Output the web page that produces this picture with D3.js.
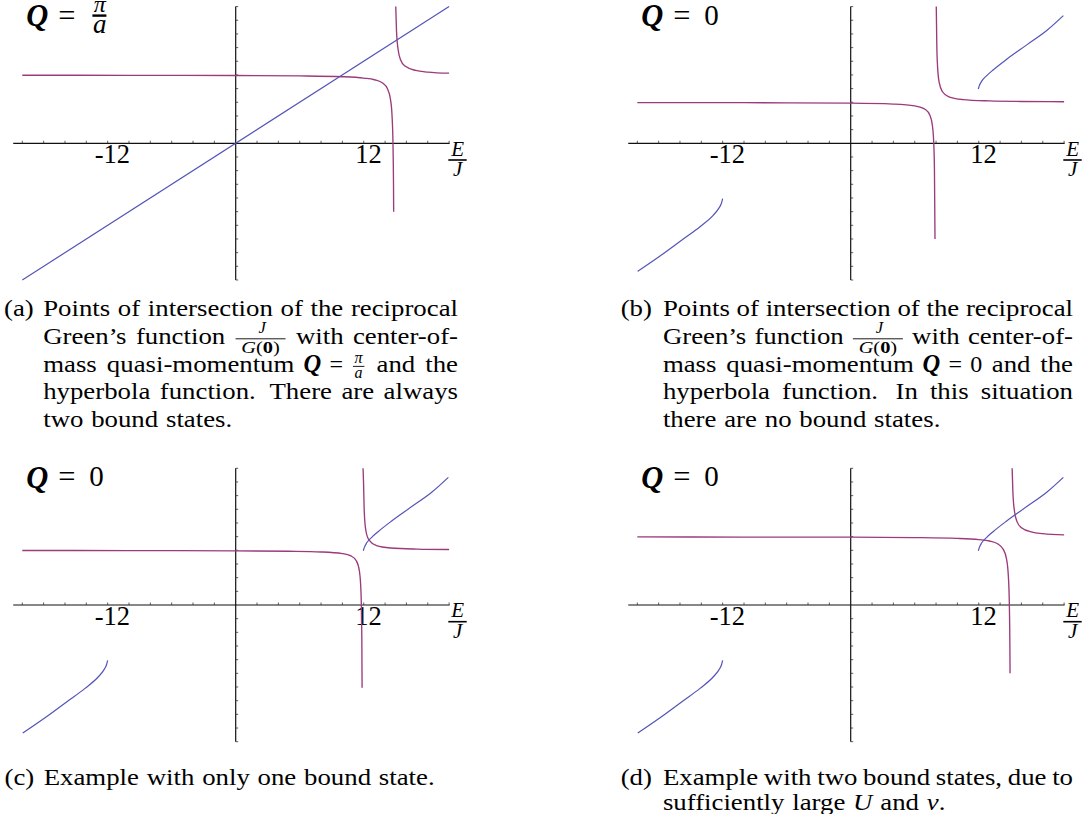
<!DOCTYPE html>
<html>
<head>
<meta charset="utf-8">
<script src="https://cdn.jsdelivr.net/npm/d3@7"></script>
<style>
  html, body { margin: 0; padding: 0; background: #fff; }
  svg { display: block; }
  text { font-family: "Liberation Serif", "Times New Roman", serif; fill: #000; }
</style>
</head>
<body>
<svg id="fig" width="1084" height="814"></svg>
<script>
// ---- axes shared by the four panels (E/J horizontally) ----
const xDomain = [-20, 20];
const yDomain = [-10, 10];
const xMinorTicks = d3.range(-20, 21, 2).filter(v => v !== 0);
const yMinorTicks = d3.range(-10, 11, 1).filter(v => v !== 0);
const xTickLabels = [-12, 12];

// ---- reciprocal Green's function J/G(0): two branches around the pole ----
const greenA_left  = [[-20, 4.98], [-10, 4.97], [0, 4.96], [6, 4.93], [10, 4.87], [12, 4.77], [13, 4.65],
                      [13.8, 4.39], [14.2, 4.03], [14.5, 3.24], [14.65, 2.05], [14.74, 0.0], [14.79, -3.1], [14.805, -5.0]];
const greenA_right = [[15.0, 10.0], [15.07, 8.25], [15.22, 6.86], [15.47, 6.08], [15.87, 5.65], [16.87, 5.33], [18, 5.21], [20, 5.13]];

const greenB_left  = [[-20, 2.98], [-10, 2.97], [0, 2.94], [4, 2.87], [6, 2.74], [7, 2.47], [7.4, 2.09],
                      [7.65, 1.33], [7.78, 0.06], [7.85, -2.0], [7.9, -7.0]];
const greenB_right = [[8.02, 10.0], [8.07, 7.17], [8.15, 5.5], [8.3, 4.43], [8.6, 3.77], [9.2, 3.4], [10.5, 3.2], [13, 3.1], [16, 3.06], [20, 3.04]];

const greenC_left  = [[-20, 3.99], [-10, 3.98], [0, 3.96], [5, 3.93], [8, 3.88], [10, 3.76], [10.8, 3.59],
                      [11.3, 3.24], [11.6, 2.45], [11.75, 0.79], [11.82, -2.4], [11.845, -6.05]];
const greenC_right = [[11.935, 10.0], [11.98, 9.0], [12.05, 6.81], [12.2, 5.45], [12.5, 4.74], [13.2, 4.34], [14.5, 4.17], [17, 4.09], [20, 4.06]];

const greenD_left  = [[-20, 4.98], [-10, 4.97], [0, 4.96], [6, 4.93], [10, 4.87], [12, 4.78], [13, 4.68],
                      [13.8, 4.46], [14.3, 4.07], [14.6, 3.38], [14.78, 2.05], [14.87, 0.0], [14.92, -3.1], [14.935, -5.0]];
const greenD_right = [[15.13, 10.0], [15.2, 8.25], [15.35, 6.86], [15.6, 6.08], [16.0, 5.65], [17, 5.33], [18, 5.22], [20, 5.13]];

// ---- hyperbola function ----
const hyperA       = [[-20, -10], [20, 10]];
const hyper_upper  = [[11.96, 3.97], [12.05, 4.2], [12.28, 4.55], [12.75, 4.95], [13.37, 5.38], [14.62, 6.15],
                      [16.5, 7.2], [18.37, 8.25], [19.93, 9.34]];
const hyper_lower  = [[-19.96, -9.37], [-17.87, -8.25], [-15.69, -7.0], [-14.12, -6.1], [-12.87, -5.25],
                      [-12.4, -4.8], [-12.1, -4.35], [-12.0, -4.05]];

// ---- captions (double space = sentence space, {..} = inline math) ----
const capA = ["Points of intersection of the reciprocal",
              "Green\u2019s function {JG} with center-of-",
              "mass quasi-momentum {Qpi} and the",
              "hyperbola function.  There are always",
              "two bound states."];
const capB = ["Points of intersection of the reciprocal",
              "Green\u2019s function {JG} with center-of-",
              "mass quasi-momentum {Q0} and the",
              "hyperbola function.  In this situation",
              "there are no bound states."];
const capC = ["Example with only one bound state."];
const capD = ["Example with two bound states, due to",
              "sufficiently large {U} and {nu.}"];

const panels = [
  { cx: 235.7, cy: 143.3, q: "pi", green: [greenA_left, greenA_right], hyper: [hyperA] },
  { cx: 850.7, cy: 143.3, q: "0",  green: [greenB_left, greenB_right], hyper: [hyper_lower, hyper_upper] },
  { cx: 235.7, cy: 605.0, q: "0",  green: [greenC_left, greenC_right], hyper: [hyper_lower, hyper_upper] },
  { cx: 850.7, cy: 605.0, q: "0",  green: [greenD_left, greenD_right], hyper: [hyper_lower, hyper_upper] }
];

const svg = d3.select("#fig");
svg.append("rect").attr("width", 1084).attr("height", 814).attr("fill", "#fff");

const GREEN_COL = "#9c3a7c";
const HYPER_COL = "#5454b8";

function txt(g, x, y, s, o = {}) {
  const t = g.append("text").attr("x", x).attr("y", y).text(s)
    .style("font-size", (o.size || 23.5) + "px");
  if (o.italic) t.style("font-style", "italic");
  if (o.bold) t.style("font-weight", "bold");
  if (o.anchor) t.attr("text-anchor", o.anchor);
  return t;
}
function bar(g, x1, x2, y, w) {
  g.append("line").attr("x1", x1).attr("x2", x2).attr("y1", y).attr("y2", y)
    .attr("stroke", "#000").attr("stroke-width", w);
}

panels.forEach(p => {
  const g = svg.append("g");
  const x = d3.scaleLinear().domain(xDomain).range([p.cx - 213.4, p.cx + 213.4]);
  const y = d3.scaleLinear().domain(yDomain).range([p.cy + 136.7, p.cy - 136.7]);

  // axes with minor ticks
  g.append("line").attr("x1", x(-20.85)).attr("x2", x(20.05)).attr("y1", y(0)).attr("y2", y(0))
    .attr("stroke", "#111").attr("stroke-width", 1.2);
  g.append("line").attr("x1", x(0)).attr("x2", x(0)).attr("y1", y(-10)).attr("y2", y(10))
    .attr("stroke", "#111").attr("stroke-width", 1.2);
  g.selectAll(".xt").data(xMinorTicks).enter().append("line")
    .attr("x1", d => x(d)).attr("x2", d => x(d)).attr("y1", y(0)).attr("y2", y(0) - 2.5)
    .attr("stroke", "#333").attr("stroke-width", 0.8);
  g.selectAll(".yt").data(yMinorTicks).enter().append("line")
    .attr("x1", x(0)).attr("x2", x(0) + 2.5).attr("y1", d => y(d)).attr("y2", d => y(d))
    .attr("stroke", "#333").attr("stroke-width", 0.8);
  xTickLabels.forEach(v => txt(g, x(v) + 4.7, y(0) + 20, v < 0 ? "-" + Math.abs(v) : String(v),
    { size: 26.5, anchor: "middle" }));

  // E/J axis label
  txt(g, p.cx + 222, p.cy + 12.3, "E", { size: 21, italic: true, anchor: "middle" });
  bar(g, p.cx + 212.6, p.cx + 231, p.cy + 16.7, 1.6);
  txt(g, p.cx + 222, p.cy + 33, "J", { size: 21, italic: true, anchor: "middle" });

  // curves: Green's function first, hyperbola on top
  const line = d3.line().x(d => x(d[0])).y(d => y(d[1])).curve(d3.curveMonotoneX);
  p.green.forEach(br => g.append("path").attr("d", line(br)).attr("fill", "none")
    .attr("stroke", GREEN_COL).attr("stroke-width", 1.35));
  p.hyper.forEach(br => g.append("path").attr("d", line(br)).attr("fill", "none")
    .attr("stroke", HYPER_COL).attr("stroke-width", 1.2));

  // Q label
  const qx = p.cx - 209.5, qy = p.cy - 117.2;
  txt(g, qx, qy, "Q", { size: 30.5, bold: true, italic: true });
  txt(g, qx + 32, qy - 0.5, "=", { size: 30.5 });
  if (p.q === "pi") {
    txt(g, qx + 73.5, qy - 14.5, "\u03c0", { size: 24, italic: true, anchor: "middle" });
    bar(g, qx + 66.2, qx + 80.2, qy - 10.5, 2.4);
    txt(g, qx + 73.5, qy + 7, "a", { size: 27, italic: true, anchor: "middle" });
  } else {
    txt(g, qx + 63, qy - 1.5, "0", { size: 29 });
  }
});

// ---- captions: word boxes laid out with justified glue ----
const cap = svg.append("g");
const FS = 23.5, R = 1.14, SP = 7.8;

function wordBox(parts, size, stretch = R) {
  const t = cap.append("text").style("font-size", size + "px");
  parts.forEach(pt => {
    const ts = t.append("tspan").text(pt.s);
    if (pt.italic) ts.style("font-style", "italic");
    if (pt.bold) ts.style("font-weight", "bold");
  });
  const w = t.node().getComputedTextLength() * stretch;
  t.attr("textLength", w).attr("lengthAdjust", "spacingAndGlyphs");
  return { w, place: (x, y) => t.attr("x", x).attr("y", y) };
}

function mathBox(token) {
  if (token === "{JG}") {
    const w = 52;
    return { w, place: (x, y) => {
      txt(cap, x + w / 2 + 1.5, y - 11.3, "J", { size: 16.5, italic: true, anchor: "middle" });
      bar(cap, x + 1, x + w - 1, y - 5.2, 0.9);
      // denominator G(0): glyph runs set one after another
      const runs = [{ s: "G", italic: true }, { s: "(" }, { s: "0", bold: true }, { s: ")" }]
        .map(r => wordBox([r], 17, 1.2));
      let gx = x + w / 2 - d3.sum(runs, r => r.w) / 2;
      runs.forEach(r => { r.place(gx, y + 8.6); gx += r.w; });
    } };
  }
  if (token === "{Qpi}" || token === "{Q0}") {
    const pi = token === "{Qpi}";
    const w = pi ? 62 : 58.5;
    return { w, place: (x, y) => {
      txt(cap, x - 1, y, "Q", { size: 24.5, bold: true, italic: true });
      txt(cap, x + 25, y, "=", { size: 24 });
      if (pi) {
        txt(cap, x + 54, y - 8.8, "\u03c0", { size: 16, italic: true, anchor: "middle" });
        bar(cap, x + 48.5, x + 60, y - 5.3, 0.9);
        txt(cap, x + 54, y + 6.4, "a", { size: 16, italic: true, anchor: "middle" });
      } else {
        txt(cap, x + 46.6, y, "0", { size: 24 });
      }
    } };
  }
  if (token === "{U}") return wordBox([{ s: "U", italic: true }], FS);
  if (token === "{nu.}") return wordBox([{ s: "\u03bd", italic: true }, { s: "." }], FS);
  return wordBox([{ s: token }], FS);
}

function layoutLine(str, x0, right, y, justify) {
  const pieces = str.split(/( +)/);
  const boxes = [];
  let glueBefore = 0;
  pieces.forEach(pc => {
    if (pc === "") return;
    if (/^ +$/.test(pc)) { glueBefore = pc.length > 1 ? 1.45 : 1; return; }
    const b = mathBox(pc);
    b.glue = boxes.length ? glueBefore : 0;
    boxes.push(b);
    glueBefore = 0;
  });
  const total = d3.sum(boxes, b => b.w);
  const units = d3.sum(boxes, b => b.glue);
  const sp = justify && units > 0 ? (right - x0 - total) / units : SP;
  let x = x0;
  boxes.forEach(b => { x += sp * b.glue; b.place(x, y); x += b.w; });
}

function caption(label, lines, x0, indent, right, baselines) {
  wordBox([{ s: label }], FS).place(x0, baselines[0]);
  lines.forEach((ln, i) => layoutLine(ln, x0 + indent, right, baselines[i], i < lines.length - 1));
}

const capBase = [316, 344, 371.7, 399.3, 426.7];
caption("(a)", capA, 4, 39.2, 458, capBase);
caption("(b)", capB, 620.7, 42.2, 1073, capBase);
caption("(c)", capC, 4.5, 39.2, 458, [784.5]);
caption("(d)", capD, 620.7, 42.2, 1073, [784.5, 809.5]);
</script>
</body>
</html>
